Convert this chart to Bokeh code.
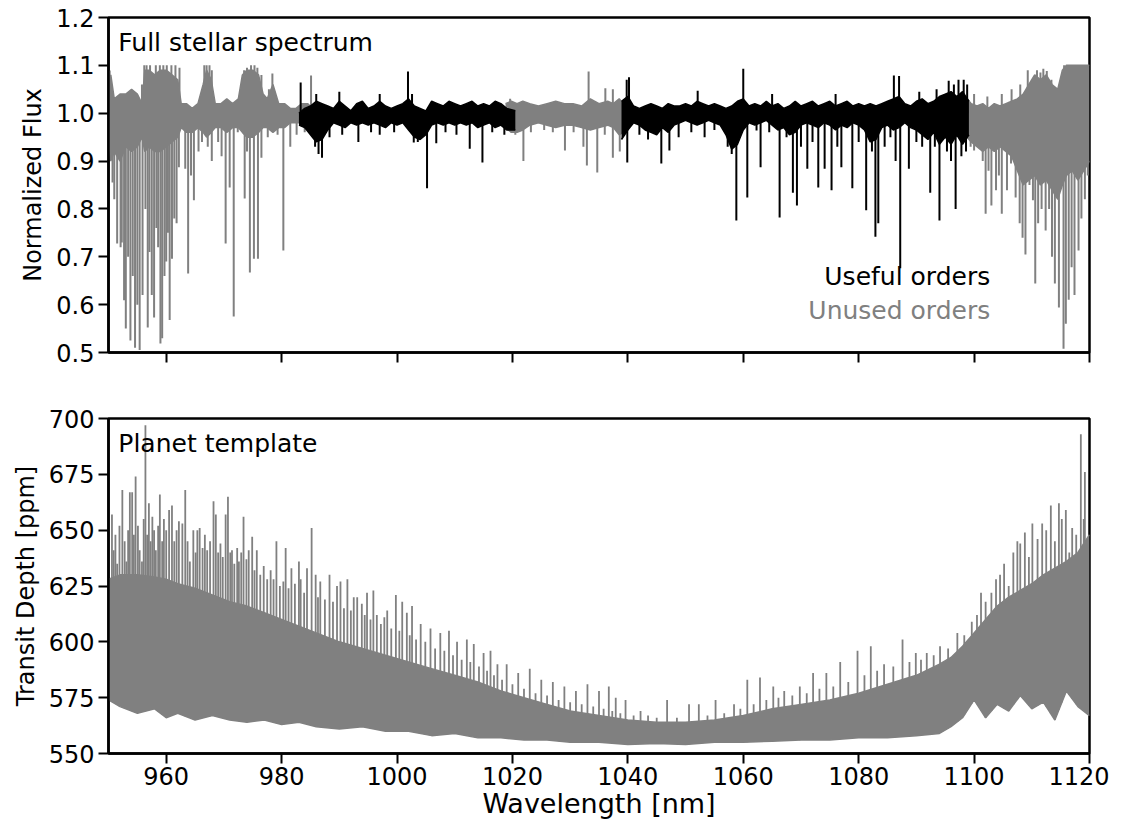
import numpy as np
from bokeh.plotting import figure
from bokeh.models import Range1d, FixedTicker, PrintfTickFormatter, Label
from bokeh.layouts import column
from bokeh.embed import file_html
from bokeh.resources import INLINE

FONT = "DejaVu Sans"
GREY = "#808080"
BLACK = "#000000"
CONTINUUM = 1.0

# ---------------- top panel: stellar spectrum ----------------
unused1_wl = [950.0, 950.4, 951.0, 952.0, 953.0, 954.0, 955.0, 955.8, 956.3, 957.0,
              958.0, 959.0, 960.0, 961.0, 962.0, 962.6, 963.5, 964.5, 965.5, 966.4,
              967.0, 967.8, 968.5, 969.5, 970.5, 971.5, 972.5, 973.2, 974.0, 975.0,
              976.0, 976.8, 977.5, 978.5, 979.5, 980.5, 981.5, 982.5, 983.5, 984.5, 985.4]
unused1_hi = [1.06, 1.08, 1.03, 1.04, 1.04, 1.05, 1.04, 1.02, 1.09, 1.09,
              1.08, 1.09, 1.09, 1.08, 1.07, 1.02, 1.02, 1.01, 1.02, 1.06,
              1.09, 1.07, 1.02, 1.02, 1.03, 1.02, 1.03, 1.08, 1.09, 1.09,
              1.08, 1.04, 1.03, 1.06, 1.02, 1.02, 1.01, 1.01, 1.02, 1.02, 1.01]
unused1_lo = [0.95, 0.90, 0.92, 0.90, 0.93, 0.92, 0.93, 0.95, 0.92, 0.93,
              0.92, 0.92, 0.93, 0.94, 0.95, 0.97, 0.96, 0.96, 0.97, 0.96,
              0.95, 0.96, 0.97, 0.97, 0.96, 0.97, 0.97, 0.96, 0.95, 0.95,
              0.96, 0.97, 0.97, 0.96, 0.97, 0.97, 0.98, 0.98, 0.98, 0.98, 0.98]

unused2_wl = [1018.8, 1019.8, 1020.8, 1021.8, 1023.0, 1024.5, 1026.0, 1027.5, 1029.0, 1030.5,
              1032.0, 1033.5, 1035.0, 1036.5, 1037.5, 1038.5, 1039.2]
unused2_hi = [1.02, 1.025, 1.02, 1.025, 1.02, 1.015, 1.02, 1.025, 1.02, 1.02,
              1.015, 1.03, 1.02, 1.025, 1.02, 1.03, 1.02]
unused2_lo = [0.97, 0.96, 0.96, 0.965, 0.975, 0.98, 0.975, 0.97, 0.975, 0.975,
              0.97, 0.965, 0.97, 0.975, 0.97, 0.955, 0.96]

unused3_wl = [1098.8, 1099.5, 1100.5, 1101.5, 1102.5, 1103.5, 1104.5, 1105.5, 1106.5, 1107.5,
              1108.5, 1109.5, 1110.5, 1111.5, 1112.5, 1113.5, 1114.5, 1115.3, 1116.0, 1117.0,
              1118.0, 1119.0, 1120.0]
unused3_hi = [1.03, 1.02, 1.015, 1.02, 1.01, 1.02, 1.015, 1.02, 1.025, 1.03,
              1.04, 1.06, 1.08, 1.07, 1.08, 1.06, 1.05, 1.09, 1.1, 1.1,
              1.1, 1.1, 1.1]
unused3_lo = [0.95, 0.94, 0.93, 0.92, 0.93, 0.92, 0.93, 0.92, 0.91, 0.88,
              0.85, 0.86, 0.87, 0.85, 0.86, 0.84, 0.82, 0.85, 0.87, 0.88,
              0.86, 0.88, 0.90]

useful1_wl = [983.0, 984.0, 985.0, 986.0, 987.0, 988.0, 989.0, 990.0, 991.0, 992.0,
              993.0, 994.0, 995.0, 996.0, 997.0, 998.0, 999.0, 1000.0, 1001.0, 1002.0,
              1003.0, 1004.0, 1005.0, 1006.0, 1007.0, 1008.0, 1009.0, 1010.0, 1011.0, 1012.0,
              1013.0, 1014.0, 1015.0, 1016.0, 1017.0, 1018.0, 1019.0, 1020.5]
useful1_hi = [1.00, 1.01, 1.015, 1.025, 1.02, 1.015, 1.01, 1.025, 1.015, 1.005,
              1.02, 1.025, 1.01, 1.015, 1.025, 1.015, 1.01, 1.015, 1.02, 1.03,
              1.015, 1.01, 1.005, 1.025, 1.02, 1.015, 1.025, 1.02, 1.015, 1.02,
              1.025, 1.015, 1.02, 1.015, 1.025, 1.02, 1.01, 1.005]
useful1_lo = [0.975, 0.97, 0.955, 0.94, 0.945, 0.965, 0.98, 0.975, 0.97, 0.98,
              0.975, 0.98, 0.975, 0.98, 0.975, 0.97, 0.98, 0.975, 0.98, 0.965,
              0.95, 0.945, 0.955, 0.975, 0.98, 0.975, 0.98, 0.975, 0.98, 0.975,
              0.98, 0.97, 0.975, 0.98, 0.97, 0.975, 0.965, 0.965]

useful2_wl = [1038.9, 1040, 1041, 1042, 1043, 1044, 1045, 1046, 1047, 1048,
              1049, 1050, 1051, 1052, 1053, 1054, 1055, 1056, 1057, 1058,
              1059, 1060, 1061, 1062, 1063, 1064, 1065, 1066, 1067, 1068,
              1069, 1070, 1071, 1072, 1073, 1074, 1075, 1076, 1077, 1078,
              1079, 1080, 1081, 1082, 1083, 1084, 1085, 1086, 1087, 1088,
              1089, 1090, 1091, 1092, 1093, 1094, 1095, 1096, 1097, 1098, 1099.1]
useful2_hi = [1.025, 1.035, 1.015, 1.01, 1.015, 1.02, 1.015, 1.01, 1.02, 1.015,
              1.015, 1.02, 1.015, 1.025, 1.02, 1.015, 1.02, 1.015, 1.01, 1.015,
              1.025, 1.03, 1.015, 1.02, 1.015, 1.025, 1.015, 1.02, 1.01, 1.015,
              1.025, 1.015, 1.02, 1.025, 1.015, 1.02, 1.025, 1.015, 1.02, 1.025,
              1.015, 1.02, 1.015, 1.02, 1.015, 1.02, 1.025, 1.03, 1.035, 1.02,
              1.015, 1.025, 1.03, 1.02, 1.025, 1.035, 1.04, 1.045, 1.035, 1.045, 1.025]
useful2_lo = [0.945, 0.965, 0.98, 0.975, 0.965, 0.96, 0.955, 0.97, 0.96, 0.975,
              0.98, 0.985, 0.98, 0.975, 0.98, 0.985, 0.98, 0.975, 0.955, 0.925,
              0.935, 0.965, 0.98, 0.975, 0.98, 0.985, 0.975, 0.965, 0.97, 0.955,
              0.96, 0.975, 0.98, 0.975, 0.97, 0.98, 0.975, 0.965, 0.975, 0.97,
              0.98, 0.975, 0.965, 0.94, 0.945, 0.97, 0.975, 0.965, 0.97, 0.98,
              0.97, 0.965, 0.955, 0.945, 0.96, 0.935, 0.95, 0.935, 0.955, 0.935, 0.955]

unused_absorption = [
    (950.7, 0.855), (951.0, 0.82), (951.5, 0.728), (952.1, 0.72), (952.3, 0.73), (952.7, 0.609),
    (953.0, 0.55), (953.4, 0.70), (953.8, 0.525), (954.2, 0.66), (954.6, 0.51), (955.0, 0.60),
    (955.4, 0.505), (955.9, 0.62), (956.4, 0.80), (956.8, 0.552), (957.1, 0.71), (957.5, 0.62),
    (957.9, 0.573), (958.3, 0.76), (958.6, 0.72), (959.0, 0.519), (959.3, 0.53), (959.7, 0.66),
    (960.0, 0.69), (960.3, 0.75), (960.6, 0.568), (961.0, 0.696), (961.4, 0.78), (961.8, 0.77),
    (962.2, 0.887), (963.3, 0.884), (963.8, 0.665), (964.3, 0.87), (964.8, 0.818), (965.6, 0.92),
    (966.2, 0.94), (967.2, 0.93), (967.9, 0.90), (969.0, 0.94), (969.6, 0.91), (970.3, 0.728),
    (971.0, 0.845), (971.7, 0.575), (972.4, 0.96), (973.6, 0.822), (974.0, 0.92), (974.5, 0.667),
    (975.2, 0.696), (975.9, 0.696), (976.5, 0.907), (977.6, 0.95), (979.3, 0.955), (980.3, 0.713),
    (981.5, 0.93), (982.6, 0.955), (984.0, 0.96),
    (1019.4, 0.97), (1020.5, 0.955), (1021.9, 0.90), (1023.2, 0.96), (1025.5, 0.965), (1027.0, 0.96),
    (1029.1, 0.922), (1030.6, 0.96), (1032.3, 0.93), (1032.9, 0.891), (1034.7, 0.876), (1036.0, 0.955),
    (1037.4, 0.907), (1038.6, 0.92),
    (1099.4, 0.93), (1100.0, 0.922), (1100.8, 0.93), (1101.5, 0.90), (1102.0, 0.79), (1102.5, 0.88),
    (1103.0, 0.807), (1103.8, 0.839), (1104.3, 0.87), (1104.8, 0.79), (1105.7, 0.839), (1106.4, 0.895),
    (1107.2, 0.824), (1107.9, 0.77), (1108.4, 0.74), (1108.9, 0.705), (1109.6, 0.85), (1110.2, 0.818),
    (1110.6, 0.644), (1111.1, 0.77), (1111.7, 0.80), (1112.4, 0.755), (1113.0, 0.80), (1113.5, 0.70),
    (1114.0, 0.644), (1114.7, 0.594), (1115.5, 0.508), (1115.9, 0.56), (1116.4, 0.61), (1116.9, 0.678),
    (1117.4, 0.62), (1118.1, 0.713), (1118.6, 0.78), (1119.2, 0.82), (1119.7, 0.87),
]
unused_emission = [
    (950.2, 1.089), (955.8, 1.06), (956.2, 1.1), (956.6, 1.1), (957.2, 1.1), (958.2, 1.1),
    (958.9, 1.1), (959.5, 1.1), (960.1, 1.1), (960.9, 1.1), (961.6, 1.1), (962.3, 1.095),
    (966.6, 1.1), (967.0, 1.1), (967.5, 1.1), (967.9, 1.09), (973.5, 1.09), (974.0, 1.095),
    (974.7, 1.1), (975.3, 1.1), (975.8, 1.095), (976.5, 1.08), (977.8, 1.05), (978.4, 1.083),
    (985.1, 1.079),
    (1019.6, 1.03), (1033.2, 1.087), (1036.1, 1.052), (1037.4, 1.05),
    (1100.0, 1.04), (1102.3, 1.035), (1104.8, 1.04), (1106.5, 1.05), (1108.0, 1.06), (1109.3, 1.09),
    (1110.0, 1.064), (1110.9, 1.09), (1111.5, 1.085), (1112.0, 1.093), (1112.6, 1.088), (1113.4, 1.07),
    (1115.6, 1.1), (1116.4, 1.1), (1117.2, 1.1), (1118.0, 1.1), (1118.8, 1.1), (1119.5, 1.1),
]
useful_absorption = [
    (985.8, 0.93), (986.4, 0.915), (987.0, 0.907), (988.3, 0.95), (990.5, 0.955), (993.3, 0.94),
    (995.5, 0.96), (997.0, 0.955), (999.5, 0.96), (1002.9, 0.939), (1003.6, 0.94), (1005.2, 0.843),
    (1006.8, 0.937), (1008.4, 0.96), (1010.3, 0.955), (1012.6, 0.926), (1014.8, 0.897), (1016.5, 0.96),
    (1018.6, 0.955),
    (1039.9, 0.897), (1042.0, 0.955), (1043.5, 0.945), (1045.8, 0.895), (1047.2, 0.922), (1048.8, 0.95),
    (1051.0, 0.96), (1053.3, 0.95), (1055.0, 0.965), (1057.3, 0.93), (1058.0, 0.915), (1058.8, 0.776),
    (1060.7, 0.824), (1062.3, 0.964), (1063.0, 0.887), (1064.5, 0.96), (1066.3, 0.782), (1067.5, 0.95),
    (1068.6, 0.834), (1069.3, 0.807), (1070.0, 0.93), (1071.1, 0.884), (1072.0, 0.94), (1073.0, 0.845),
    (1074.1, 0.884), (1075.3, 0.839), (1076.3, 0.93), (1077.0, 0.887), (1078.9, 0.843), (1080.0, 0.94),
    (1081.3, 0.797), (1082.3, 0.92), (1082.9, 0.742), (1083.4, 0.77), (1084.5, 0.93), (1085.5, 0.95),
    (1086.4, 0.90), (1087.2, 0.676), (1088.7, 0.884), (1090.0, 0.94), (1091.0, 0.93), (1092.4, 0.834),
    (1093.2, 0.93), (1094.0, 0.776), (1095.3, 0.92), (1096.0, 0.90), (1096.8, 0.80), (1097.8, 0.91),
    (1098.6, 0.92),
]
useful_emission = [
    (983.3, 1.064), (986.0, 1.04), (990.0, 1.045), (997.0, 1.04), (1001.9, 1.087), (1002.6, 1.04),
    (1039.8, 1.07), (1040.2, 1.075), (1052.1, 1.047), (1060.0, 1.093), (1065.0, 1.04), (1076.0, 1.04),
    (1086.1, 1.079), (1087.0, 1.078), (1090.5, 1.045), (1093.5, 1.05), (1095.6, 1.068), (1096.5, 1.06),
    (1097.3, 1.07), (1098.2, 1.07), (1098.8, 1.06),
]

# ---------------- bottom panel: planet template ----------------
template_wl = [950, 952, 955, 958, 960, 962, 965, 968, 971, 974,
               977, 980, 983, 986, 990, 994, 998, 1002, 1006, 1010,
               1014, 1018, 1022, 1026, 1030, 1035, 1040, 1045, 1050, 1055,
               1060, 1065, 1070, 1075, 1080, 1085, 1090, 1094, 1096, 1098,
               1100, 1102, 1104, 1106, 1108, 1110, 1112, 1114, 1116, 1118, 1120]
template_lo = [574, 571, 568, 570, 566, 568, 565, 567, 565, 564,
               565, 563, 564, 562, 561, 562, 560, 560, 558, 559,
               557, 557, 556, 556, 555, 555, 554, 554.5, 554, 555,
               555, 555.5, 556, 556, 557, 557, 558, 559, 562, 566,
               574, 566, 572, 569, 576, 570, 573, 565, 578, 571, 567]
template_hi = [628, 630, 630, 629, 628, 626, 624, 621, 618, 616,
               613, 610, 607, 604, 600, 597, 594, 591, 588, 585,
               582, 578, 575, 572, 569, 567, 565, 564, 564, 565,
               567, 570, 572, 574, 577, 581, 585, 590, 593, 598,
               604, 610, 616, 620, 623, 626, 630, 633, 636, 640, 648]
template_spikes = [
    (950.6, 657), (950.9, 641), (951.2, 648), (951.5, 635), (951.9, 652), (952.4, 668), (952.8, 645),
    (953.1, 636), (953.4, 650), (953.7, 667), (954.1, 667), (954.4, 648), (954.7, 674), (955.1, 652),
    (955.4, 641), (955.8, 636), (956.1, 655), (956.4, 697), (956.7, 648), (957.0, 662), (957.3, 645),
    (957.6, 656), (957.9, 650), (958.2, 641), (958.6, 652), (958.9, 666), (959.3, 645), (959.6, 655),
    (960.0, 650), (960.5, 659), (961.0, 661), (961.4, 645), (961.8, 650), (962.2, 654), (962.8, 653),
    (963.3, 668), (963.7, 645), (964.1, 636), (964.7, 650), (965.1, 640), (965.4, 650), (965.8, 651),
    (966.3, 642), (966.7, 648), (967.1, 641), (967.6, 645), (968.2, 663), (968.6, 657), (969.0, 640),
    (969.4, 644), (969.8, 638), (970.3, 657), (970.7, 665), (971.1, 640), (971.4, 641), (971.8, 635),
    (972.3, 642), (972.6, 636), (973.0, 640), (973.4, 656), (973.9, 637), (974.3, 641), (974.9, 647),
    (975.3, 632), (975.7, 641), (976.3, 630), (976.9, 634), (977.5, 628), (978.1, 632), (978.6, 628),
    (979.1, 645), (979.7, 625), (980.3, 627), (980.7, 642), (981.2, 624), (981.7, 633), (982.3, 626),
    (983.0, 636), (983.3, 628), (983.9, 622), (984.4, 633), (985.2, 651), (985.9, 630), (986.3, 620),
    (986.7, 627), (987.5, 619), (988.3, 630), (988.9, 618), (989.6, 625), (990.2, 627), (990.8, 615),
    (991.4, 628), (992.0, 614), (992.5, 620), (993.1, 620), (993.9, 617), (994.4, 612), (994.8, 622),
    (995.4, 610), (995.9, 623), (996.5, 612), (997.2, 608), (997.8, 611), (998.3, 614), (999.0, 606),
    (999.8, 621), (1000.4, 605), (1000.9, 618), (1001.7, 613), (1002.2, 603), (1002.6, 616),
    (1003.3, 601), (1004.1, 608), (1004.9, 600), (1005.8, 606), (1006.6, 597), (1007.5, 604),
    (1008.2, 596), (1009.0, 605), (1009.7, 594), (1010.4, 600), (1011.2, 592), (1012.1, 601),
    (1012.7, 591), (1013.3, 599), (1014.2, 589), (1015.0, 595), (1015.6, 587), (1016.2, 596),
    (1016.8, 585), (1017.4, 590), (1018.2, 583), (1019.0, 590), (1020.0, 581), (1021.0, 586),
    (1022.0, 579), (1023.0, 588), (1024.0, 577), (1025.0, 583), (1026.0, 576), (1027.0, 582),
    (1028.0, 574), (1029.0, 580), (1030.0, 573), (1031.0, 578), (1032.0, 572), (1033.0, 581),
    (1034.0, 571), (1035.0, 578), (1035.8, 570), (1036.7, 580), (1037.3, 569), (1037.9, 575),
    (1038.7, 568), (1039.6, 574), (1041.0, 567), (1042.2, 569), (1043.5, 567), (1045.0, 566),
    (1046.8, 574), (1048.5, 566), (1050.6, 572), (1052.3, 572), (1053.8, 567), (1055.2, 574),
    (1056.7, 568), (1058.4, 572), (1059.5, 570), (1060.7, 583), (1061.8, 572), (1062.9, 584),
    (1064.0, 574), (1065.2, 580), (1066.1, 575), (1067.1, 578), (1068.5, 576), (1069.8, 580),
    (1071.0, 577), (1072.1, 586), (1073.2, 579), (1074.4, 586), (1075.6, 580), (1076.8, 591),
    (1078.2, 582), (1079.8, 596), (1081.0, 585), (1082.1, 598), (1083.2, 587), (1084.4, 590),
    (1086.0, 589), (1087.6, 601), (1088.8, 591), (1089.9, 595), (1090.8, 592), (1091.8, 595),
    (1093.0, 594), (1094.1, 598), (1095.5, 597), (1097.1, 604), (1098.3, 603), (1099.6, 609),
    (1100.5, 612), (1101.2, 622), (1102.0, 618), (1103.0, 622), (1103.8, 628), (1104.5, 630),
    (1105.2, 635), (1106.0, 625), (1106.8, 640), (1107.5, 645), (1108.0, 644), (1108.8, 649),
    (1109.5, 638), (1110.1, 653), (1111.0, 646), (1111.8, 653), (1112.5, 650), (1113.3, 661),
    (1114.0, 645), (1114.7, 662), (1115.2, 655), (1115.9, 659), (1116.5, 640), (1117.0, 651),
    (1117.7, 648), (1118.5, 693), (1119.0, 655), (1119.2, 676), (1119.7, 641),
]

# ---------------- axes / ticks ----------------
x_ticks = [960, 980, 1000, 1020, 1040, 1060, 1080, 1100, 1120]
flux_ticks = [0.5, 0.6, 0.7, 0.8, 0.9, 1.0, 1.1, 1.2]
depth_ticks = [550, 575, 600, 625, 650, 675, 700]

x_range = Range1d(950, 1120)


def style(p, yticks, fmt, show_xlabels):
    p.xgrid.visible = False
    p.ygrid.visible = False
    p.outline_line_color = "black"
    p.outline_line_width = 2.5
    p.outline_line_alpha = 1.0
    for ax in (p.xaxis[0], p.yaxis[0]):
        ax.axis_line_color = "black"
        ax.axis_line_width = 2.5
        ax.major_tick_line_color = "black"
        ax.major_tick_line_width = 2
        ax.major_tick_out = 10
        ax.major_tick_in = 0
        ax.minor_tick_line_color = None
        ax.major_label_text_font = FONT
        ax.major_label_text_font_size = "24px"
        ax.major_label_text_color = "black"
        ax.axis_label_text_font = FONT
        ax.axis_label_text_font_style = "normal"
        ax.axis_label_text_color = "black"
    p.xaxis[0].ticker = FixedTicker(ticks=x_ticks)
    p.yaxis[0].ticker = FixedTicker(ticks=yticks)
    p.yaxis[0].formatter = PrintfTickFormatter(format=fmt)
    p.yaxis[0].major_label_standoff = 4
    p.yaxis[0].axis_label_standoff = 6
    p.yaxis[0].axis_label_text_font_size = "24px"
    if not show_xlabels:
        p.xaxis[0].major_label_overrides = {t: "" for t in x_ticks}
        p.xaxis[0].major_label_standoff = 0
    else:
        p.xaxis[0].major_label_standoff = 3
        p.xaxis[0].axis_label_standoff = 0
        p.xaxis[0].axis_label_text_font_size = "27px"


# ---------------- top figure ----------------
p1 = figure(width=1109, height=388, x_range=x_range, y_range=Range1d(0.5, 1.2),
            output_backend="svg", toolbar_location=None,
            min_border_left=108, min_border_right=20, min_border_top=17, min_border_bottom=36)
style(p1, flux_ticks, "%.1f", False)
p1.yaxis[0].axis_label = "Normalized Flux"


def draw_orders(p, segments, absorption, emission, color):
    for wl, lo, hi in segments:
        p.varea(x=wl, y1=lo, y2=hi, fill_color=color)
        p.line(wl, hi, line_color=color, line_width=1.5)
        p.line(wl, lo, line_color=color, line_width=1.5)
    aw = [a[0] for a in absorption]
    av = [a[1] for a in absorption]
    p.segment(x0=aw, y0=[CONTINUUM] * len(aw), x1=aw, y1=av, line_color=color, line_width=2)
    ew = [e[0] for e in emission]
    ev = [e[1] for e in emission]
    p.segment(x0=ew, y0=[CONTINUUM] * len(ew), x1=ew, y1=ev, line_color=color, line_width=2)


draw_orders(p1, [(unused1_wl, unused1_lo, unused1_hi),
                 (unused2_wl, unused2_lo, unused2_hi),
                 (unused3_wl, unused3_lo, unused3_hi)],
            unused_absorption, unused_emission, GREY)
draw_orders(p1, [(useful1_wl, useful1_lo, useful1_hi),
                 (useful2_wl, useful2_lo, useful2_hi)],
            useful_absorption, useful_emission, BLACK)

p1.add_layout(Label(x=951.7, y=1.148, text="Full stellar spectrum", text_font=FONT,
                    text_font_size="25px", text_baseline="middle", text_color="black"))
p1.add_layout(Label(x=1102.8, y=0.659, text="Useful orders", text_font=FONT,
                    text_font_size="25px", text_baseline="middle", text_align="right",
                    text_color="black"))
p1.add_layout(Label(x=1102.8, y=0.588, text="Unused orders", text_font=FONT,
                    text_font_size="25px", text_baseline="middle", text_align="right",
                    text_color=GREY))

# ---------------- bottom figure ----------------
p2 = figure(width=1109, height=437, x_range=x_range, y_range=Range1d(550, 700),
            output_backend="svg", toolbar_location=None,
            min_border_left=108, min_border_right=20, min_border_top=30, min_border_bottom=72)
style(p2, depth_ticks, "%d", True)
p2.yaxis[0].axis_label = "Transit Depth [ppm]"
p2.xaxis[0].axis_label = "Wavelength [nm]"

p2.varea(x=template_wl, y1=template_lo, y2=template_hi, fill_color=GREY)
p2.line(template_wl, template_lo, line_color=GREY, line_width=1.5)
p2.line(template_wl, template_hi, line_color=GREY, line_width=1.5)
sw = [s[0] for s in template_spikes]
sv = [s[1] for s in template_spikes]
base = np.interp(sw, template_wl, template_lo)
p2.segment(x0=sw, y0=base, x1=sw, y1=sv, line_color=GREY, line_width=1.8)

p2.add_layout(Label(x=951.7, y=688.8, text="Planet template", text_font=FONT,
                    text_font_size="25px", text_baseline="middle", text_color="black"))

layout = column(p1, p2, spacing=0)
open("out.html", "w").write(file_html(layout, INLINE))
